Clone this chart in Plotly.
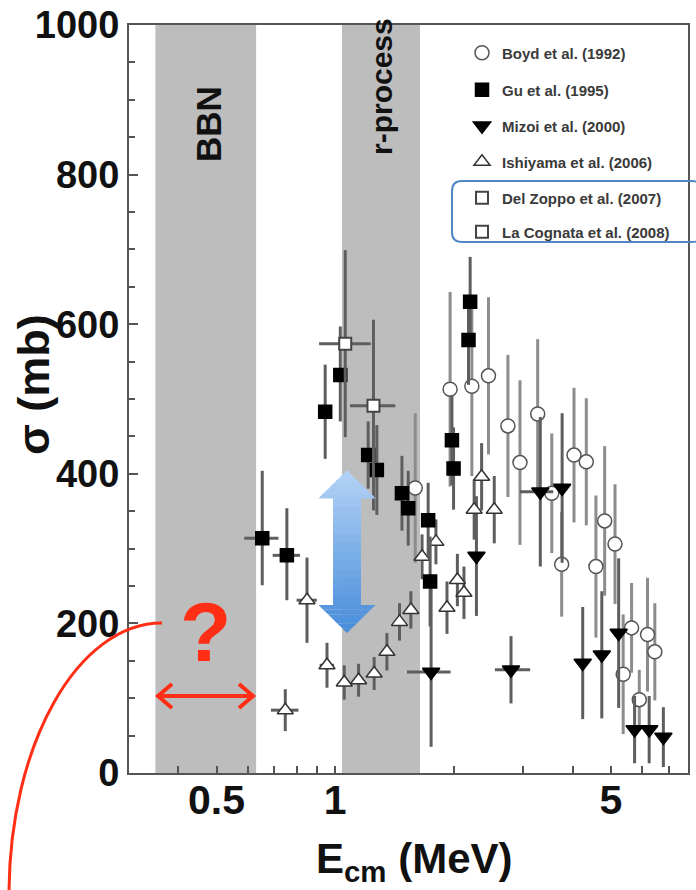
import math
import plotly.graph_objects as go

# ---------------- data ----------------
boyd_E = [1.595, 1.955, 2.22, 2.446, 2.74, 2.94, 3.26, 3.54, 3.75, 4.03, 4.33, 4.58, 4.82, 5.12, 5.37, 5.64, 5.90, 6.19, 6.46]
boyd_sigma = [381, 513, 517, 531, 464, 415, 480, 374, 279, 425, 416, 276, 337, 306, 132, 194, 98, 185, 162]
boyd_err = [100, 130, 120, 105, 95, 110, 100, 80, 70, 90, 85, 95, 100, 80, 80, 60, 40, 76, 65]

gu_E = [0.653, 0.754, 0.943, 1.03, 1.212, 1.275, 1.476, 1.531, 1.72, 1.74, 1.976, 1.995, 2.177, 2.198]
gu_sigma = [314, 291, 483, 532, 425, 405, 374, 354, 338, 256, 445, 407, 579, 630]
gu_err_up = [90, 63, 63, 65, 45, 60, 50, 50, 50, 60, 60, 55, 60, 60]
gu_err_dn = [63, 60, 63, 62, 45, 60, 50, 50, 50, 60, 60, 55, 60, 60]
gu_errE = [0.065, 0.06, 0, 0, 0, 0, 0, 0, 0, 0, 0, 0, 0, 0]

mizoi_E = [1.75, 2.28, 2.79, 3.31, 3.76, 4.24, 4.74, 5.23, 5.74, 6.25, 6.79]
mizoi_sigma = [135, 290, 138, 376, 381, 147, 158, 187, 58, 58, 48]
mizoi_err_up = [130, 80, 45, 100, 100, 75, 85, 100, 45, 45, 40]
mizoi_err_dn = [100, 80, 45, 100, 100, 75, 85, 100, 45, 45, 40]
mizoi_errE_p = [0.21, 0, 0.33, 0.26, 0, 0, 0, 0, 0, 0, 0]
mizoi_errE_m = [0.23, 0, 0.25, 0.37, 0, 0, 0, 0, 0, 0, 0]

ishi_E = [0.747, 0.848, 0.953, 1.054, 1.146, 1.255, 1.352, 1.455, 1.555, 1.66, 1.80, 1.92, 2.04, 2.12, 2.25, 2.35, 2.53]
ishi_sigma = [84, 231, 144, 121, 124, 133, 162, 202, 218, 289, 309, 221, 258, 241, 352, 396, 352]
ishi_err = [28, 57, 30, 23, 22, 22, 25, 25, 25, 30, 30, 35, 35, 35, 40, 45, 45]
ishi_errE = [0.06, 0.05, 0.04, 0.03, 0, 0, 0, 0, 0, 0, 0, 0, 0, 0, 0, 0, 0]

delzoppo_E = [1.06]
delzoppo_sigma = [574]
delzoppo_err = [125]
delzoppo_errE_p = [0.17]
delzoppo_errE_m = [0.15]

lacognata_E = [1.25]
lacognata_sigma = [491]
lacognata_err_up = [115]
lacognata_err_dn = [140]
lacognata_errE_p = [0.17]
lacognata_errE_m = [0.16]

bands = [("BBN", 0.35, 0.63), ("r-process", 1.04, 1.64)]
x_tickvals = [0.4, 0.5, 0.6, 0.7, 0.8, 0.9, 1, 2, 3, 4, 5, 6, 7]
x_ticktext = ["", "0.5", "", "", "", "", "1", "", "", "", "5", "", ""]
y_tickvals = [0, 200, 400, 600, 800, 1000]

# ---------------- geometry ----------------
W, H = 696, 890
ML, MR, MT, MB = 129, 8, 25, 117
PW, PH = W - ML - MR, H - MT - MB
XMIN, XMAX = 0.3, 7.84
LX0, LX1 = math.log10(XMIN), math.log10(XMAX)


def px(xp):
    return (xp - ML) / PW


def py(yp):
    return (H - MB - yp) / PH


def ex(E):
    return (math.log10(E) - LX0) / (LX1 - LX0)


FONT = "Liberation Sans, Arial, sans-serif"
RED = "#ff2e14"
ERRC = "#5e5e5e"

fig = go.Figure()


def add(name, E, s, up, dn, symbol, size, fill, line, legend, ecolor=ERRC,
        xe_p=None, xe_m=None, lw=1.5):
    tr = dict(
        x=E, y=s, mode="markers", name=name, legend=legend,
        marker=dict(symbol=symbol, size=size, color=fill,
                    line=dict(color=line, width=lw)),
        error_y=dict(type="data", symmetric=False, array=up, arrayminus=dn,
                     color=ecolor, thickness=3, width=0),
        showlegend=True,
    )
    if xe_p is not None:
        tr["error_x"] = dict(type="data", symmetric=False, array=xe_p,
                             arrayminus=xe_m, color=ecolor, thickness=3, width=0)
    fig.add_trace(go.Scatter(**tr))


add("Boyd et al. (1992)", boyd_E, boyd_sigma, boyd_err, boyd_err,
    "circle", 14, "white", "#555", "legend", ecolor="#8c8c8c")
add("Mizoi et al. (2000)", mizoi_E, mizoi_sigma, mizoi_err_up, mizoi_err_dn,
    "triangle-down", 15, "black", "black", "legend3",
    xe_p=mizoi_errE_p, xe_m=mizoi_errE_m)
add("Ishiyama et al. (2006)", ishi_E, ishi_sigma, ishi_err, ishi_err,
    "triangle-up", 14, "white", "#333", "legend4", xe_p=ishi_errE, xe_m=ishi_errE)
add("Gu et al. (1995)", gu_E, gu_sigma, gu_err_up, gu_err_dn,
    "square", 13, "black", "black", "legend2", xe_p=gu_errE, xe_m=gu_errE)
add("Del Zoppo et al. (2007)", delzoppo_E, delzoppo_sigma, delzoppo_err, delzoppo_err,
    "square", 12, "white", "#444", "legend5",
    xe_p=delzoppo_errE_p, xe_m=delzoppo_errE_m, lw=2)
add("La Cognata et al. (2008)", lacognata_E, lacognata_sigma, lacognata_err_up,
    lacognata_err_dn, "square", 12, "white", "#444", "legend6",
    xe_p=lacognata_errE_p, xe_m=lacognata_errE_m, lw=2)

# ---------------- shapes ----------------
shapes = []
for label, e0, e1 in bands:
    shapes.append(dict(type="rect", xref="paper", yref="paper", x0=ex(e0), x1=ex(e1),
                       y0=0, y1=1, fillcolor="#bdbdbd", line=dict(width=0),
                       layer="below"))

# blue double arrow with vertical gradient (sliced)
cx, top, bot, hh, hw, sw = 347, 470, 633, 28, 28.5, 14
c0, c1 = (181, 211, 246), (70, 140, 218)


def hwidth(y, region):
    if region == "top":
        return hw * (y - top) / hh
    if region == "bot":
        return hw * (bot - y) / hh
    return sw


def col(y):
    t = (y - top) / (bot - top)
    return "rgb(%d,%d,%d)" % tuple(round(a + (b - a) * t) for a, b in zip(c0, c1))


segs = []
n = 6
for i in range(n):
    segs.append((top + hh * i / n, top + hh * (i + 1) / n, "top"))
ns = 12
for i in range(ns):
    segs.append((top + hh + (bot - top - 2 * hh) * i / ns,
                 top + hh + (bot - top - 2 * hh) * (i + 1) / ns, "mid"))
for i in range(n):
    segs.append((bot - hh + hh * i / n, bot - hh + hh * (i + 1) / n, "bot"))
for y0, y1, reg in segs:
    w0, w1 = hwidth(y0, reg), hwidth(y1, reg)
    y1e = y1 + (0.6 if reg != "bot" else 0)
    path = "M %f,%f L %f,%f L %f,%f L %f,%f Z" % (
        px(cx - w0), py(y0), px(cx + w0), py(y0),
        px(cx + w1), py(y1e), px(cx - w1), py(y1e))
    shapes.append(dict(type="path", xref="paper", yref="paper", path=path,
                       fillcolor=col((y0 + y1) / 2), line=dict(width=0)))

# red curve
k = 0.5523
sx, sy, exx, eyy = 162, 623, 9, 895
path = "M %f,%f C %f,%f %f,%f %f,%f" % (
    px(sx), py(sy), px(sx - (sx - exx) * k), py(sy), px(exx), py(eyy - (eyy - sy) * k),
    px(exx), py(eyy))
shapes.append(dict(type="path", xref="paper", yref="paper", path=path,
                   line=dict(color=RED, width=3)))

# red double horizontal arrow
ay, ax0, ax1, al, ah = 696, 158, 253, 14, 12
for p in [
    "M %f,%f L %f,%f" % (px(ax0 + 2), py(ay), px(ax1 - 2), py(ay)),
    "M %f,%f L %f,%f L %f,%f" % (px(ax0 + al), py(ay - ah), px(ax0), py(ay), px(ax0 + al), py(ay + ah)),
    "M %f,%f L %f,%f L %f,%f" % (px(ax1 - al), py(ay - ah), px(ax1), py(ay), px(ax1 - al), py(ay + ah)),
]:
    shapes.append(dict(type="path", xref="paper", yref="paper", path=p,
                       line=dict(color=RED, width=4)))

# blue rounded box around two legend entries
bx0, by0, bx1, by1, r = 452, 181, 702, 242, 10
p = ("M %f,%f L %f,%f Q %f,%f %f,%f L %f,%f Q %f,%f %f,%f L %f,%f Q %f,%f %f,%f "
     "L %f,%f Q %f,%f %f,%f Z") % (
    px(bx0 + r), py(by0), px(bx1 - r), py(by0), px(bx1), py(by0), px(bx1), py(by0 + r),
    px(bx1), py(by1 - r), px(bx1), py(by1), px(bx1 - r), py(by1),
    px(bx0 + r), py(by1), px(bx0), py(by1), px(bx0), py(by1 - r),
    px(bx0), py(by0 + r), px(bx0), py(by0), px(bx0 + r), py(by0))
shapes.append(dict(type="path", xref="paper", yref="paper", path=p,
                   line=dict(color="#4f86c6", width=2)))

# ---------------- annotations ----------------
def note(text, xp, yp, size, color="#111", bold=True, angle=0):
    return dict(text=text, x=px(xp), y=py(yp), xref="paper", yref="paper",
                xanchor="center", yanchor="middle", textangle=angle, showarrow=False,
                font=dict(family=FONT, size=size, color=color,
                          weight="bold" if bold else "normal"))


ann = [
    note("BBN", 209, 124, 35, angle=-90),
    note("r-process", 381, 87, 30, angle=-90),
    note("?", 205, 632, 84, color=RED),
    note("σ (mb)", 33, 385, 45, angle=-90),
    note("E<sub>cm</sub> (MeV)", 414, 862, 42),
]

legend_rows = [53, 90, 126, 162, 198, 232]
leg_names = ["legend", "legend2", "legend3", "legend4", "legend5", "legend6"]
leg_cfg = {}
for nm, yr in zip(leg_names, legend_rows):
    leg_cfg[nm] = dict(x=px(462), y=py(yr), xanchor="left", yanchor="middle",
                       bgcolor="rgba(0,0,0,0)", borderwidth=0,
                       font=dict(family=FONT, size=15, color="#3a3a3a", weight="bold"))

axis_font = dict(family=FONT, size=38, color="#111", weight="bold")
fig.update_layout(
    width=W, height=H,
    margin=dict(l=ML, r=MR, t=MT, b=MB, pad=0, autoexpand=False),
    paper_bgcolor="white", plot_bgcolor="white",
    shapes=shapes, annotations=ann,
    xaxis=dict(type="log", range=[LX0, LX1], tickvals=x_tickvals, ticktext=x_ticktext,
               ticks="inside", ticklen=7, tickwidth=2, tickcolor="#555",
               showline=True, linecolor="#555", linewidth=2, mirror=True,
               showgrid=False, zeroline=False,
               tickfont=dict(family=FONT, size=41, color="#111", weight="bold"),
               ticklabelstandoff=-10, automargin=False),
    yaxis=dict(range=[0, 1000], tickvals=y_tickvals, ticks="inside", ticklen=9,
               tickwidth=2, tickcolor="#555",
               minor=dict(dtick=50, ticks="inside", ticklen=6, tickwidth=2, tickcolor="#555"),
               showline=True, linecolor="#555", linewidth=2, mirror=True,
               showgrid=False, zeroline=False, tickfont=axis_font, automargin=False),
    **leg_cfg,
)

fig.write_html("out.html", config={"displayModeBar": False},
               post_script="document.body.style.margin='0';document.body.style.overflow='hidden';")
